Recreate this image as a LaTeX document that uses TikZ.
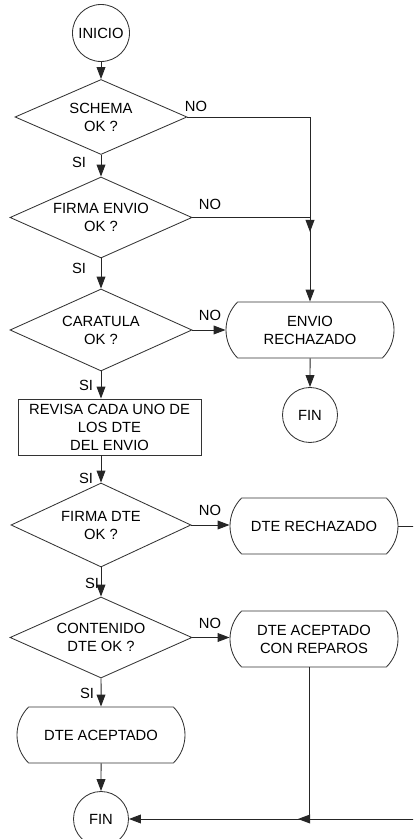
\documentclass[tikz,border=0pt]{standalone}
\usepackage{fontspec}
\setmainfont{Liberation Sans}
\usetikzlibrary{shapes.geometric,shapes.misc,arrows.meta}

\tikzset{
	flow/.style={line width=0.7pt, draw=black!85},
	flowarrow/.style={flow, -{Triangle[length=3mm,width=2.2mm]}},
	boxtext/.style={font=\fontsize{10.5}{12.8}\selectfont, align=center},
	decision/.style={diamond, draw=black!80, line width=0.6pt, aspect=2.2, inner sep=0pt, boxtext},
	terminal/.style={rounded rectangle, rounded rectangle arc length=90, draw=black!80, line width=0.6pt, minimum width=4.2cm, minimum height=1.4cm, inner sep=0pt, boxtext},
	process/.style={rectangle, draw=black!80, line width=0.6pt, minimum width=4.575cm, minimum height=1.4cm, inner sep=0pt, boxtext},
	endpoint/.style={circle, draw=black!80, line width=0.6pt, inner sep=0pt, minimum size=1.4cm, boxtext},
	answer/.style={font=\fontsize{10.5}{12.8}\selectfont, inner sep=0pt}
}

\begin{document}
\begin{tikzpicture}
			%%%%% START %%%%%
			
			\useasboundingbox (0, 0) rectangle (10.325, 20.975);
			\clip (0, 0) rectangle (10.325, 20.975);
			
			% left column
			\node[endpoint, minimum size=1.425cm] (inicio) at (2.525, 20.15) {INICIO};
			\node[decision, minimum width=4.3cm, minimum height=1.875cm] (schema) at (2.525, 18.05) {SCHEMA\\OK ?};
			\node[decision, minimum width=4.55cm, minimum height=2.025cm] (firmaenv) at (2.525, 15.5375) {FIRMA ENVIO\\OK ?};
			\node[decision, minimum width=4.55cm, minimum height=2.05cm] (caratula) at (2.525, 12.725) {CARATULA\\OK ?};
			\node[process] (revisa) at (2.7375, 10.3) {REVISA CADA UNO DE\\LOS DTE\\DEL ENVIO};
			\node[decision, minimum width=4.5cm, minimum height=2.1cm] (firmadte) at (2.525, 7.85) {FIRMA DTE\\OK ?};
			\node[decision, minimum width=4.55cm, minimum height=2.025cm] (contenido) at (2.525, 5.0375) {CONTENIDO\\DTE OK ?};
			\node[terminal] (acept) at (2.525, 2.6) {DTE ACEPTADO};
			\node[endpoint, minimum size=1.375cm] (fin2) at (2.525, 0.5) {FIN};
			
			% right column
			\node[terminal] (envio) at (7.75, 12.725) {ENVIO\\RECHAZADO};
			\node[endpoint, minimum size=1.375cm] (fin1) at (7.75, 10.6) {FIN};
			\node[terminal] (drte) at (7.85, 7.825) {DTE RECHAZADO};
			\node[terminal] (reparos) at (7.85, 5.0) {DTE ACEPTADO\\CON REPAROS};
			
			\coordinate (jenv) at (7.75, 15.175);
			\coordinate (edgetop) at (10.5, 7.825);
			\coordinate (edgebot) at (10.5, 0.5);
			\coordinate (jfin) at (7.45, 0.5);
			\coordinate (jrep) at (7.725, 0.5);
			
			% SI branch
			\draw[flowarrow] (inicio) -- (schema);
			\draw[flowarrow] (schema) -- (firmaenv);
			\draw[flowarrow] (firmaenv) -- (caratula);
			\draw[flowarrow] (caratula.south) -- (caratula.south |- revisa.north);
			\draw[flowarrow] (revisa.south -| firmadte.north) -- (firmadte.north);
			\draw[flowarrow] (firmadte) -- (contenido);
			\draw[flowarrow] (contenido) -- (acept);
			\draw[flowarrow] (acept) -- (fin2);
			
			% NO branch
			\draw[flowarrow] (schema.east) -| (envio.north);
			\draw[flowarrow] (firmaenv.east) -| (jenv);
			\draw[flowarrow] (caratula.east) -- (envio.west);
			\draw[flowarrow] (envio) -- (fin1);
			\draw[flowarrow] (firmadte.east) -- (firmadte.east -| drte.west);
			\draw[flowarrow] (contenido.east) -- (contenido.east -| reparos.west);
			\draw[flowarrow] (drte.east) -- (edgetop) -- (edgebot) -- (jfin);
			\draw[flowarrow] (reparos.south -| jrep) -- (jrep) -- (fin2.east);
			
			% answers
			\node[answer] (no1) at (4.9, 18.325) {NO};
			\node[answer] (no2) at (5.25, 15.875) {NO};
			\node[answer] (no3) at (5.25, 13.1) {NO};
			\node[answer] (no4) at (5.25, 8.225) {NO};
			\node[answer] (no5) at (5.25, 5.4) {NO};
			\node[answer] (si1) at (1.975, 16.925) {SI};
			\node[answer] (si2) at (1.975, 14.275) {SI};
			\node[answer] (si3) at (2.15, 11.35) {SI};
			\node[answer] (si4) at (2.15, 9.025) {SI};
			\node[answer] (si5) at (2.3, 6.4) {SI};
			\node[answer] (si6) at (2.175, 3.65) {SI};
			
			%%%%% END %%%%%
\end{tikzpicture}
\end{document}
